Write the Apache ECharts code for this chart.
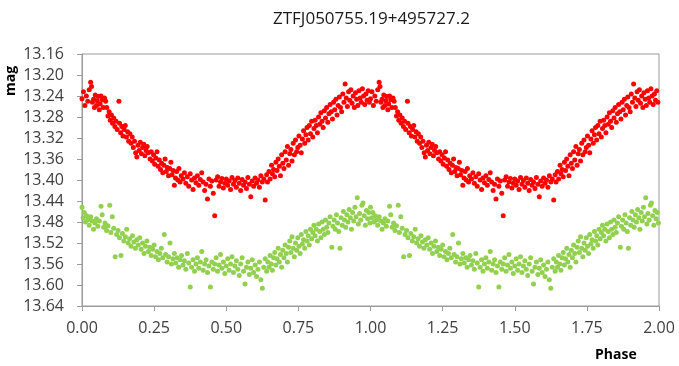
<!DOCTYPE html>
<html style="height: 100%">
<head>
    <meta charset="utf-8">
</head>
<body style="height: 100%; margin: 0; background: #fff">
<div id="container" style="width: 679px; height: 366px"></div>
<script type="text/javascript" src="https://cdn.jsdelivr.net/npm/echarts@6/dist/echarts.min.js"></script>
<script type="text/javascript">
    var titleText = 'ZTFJ050755.19+495727.2';
    var xTicks = [0, 0.25, 0.5, 0.75, 1, 1.25, 1.5, 1.75, 2];
    var yTicks = [13.16, 13.20, 13.24, 13.28, 13.32, 13.36, 13.40, 13.44, 13.48, 13.52, 13.56, 13.60, 13.64];

    // folded light curve, phase 0-1 (plotted twice: phase and phase + 1)
    var redPoints = [
        [0.000, 13.245], [0.005, 13.232], [0.010, 13.258], [0.015, 13.240], [0.020, 13.250],
        [0.025, 13.228], [0.030, 13.214], [0.033, 13.222], [0.036, 13.252], [0.040, 13.246],
        [0.043, 13.262], [0.046, 13.238], [0.050, 13.258], [0.053, 13.249], [0.056, 13.241],
        [0.060, 13.266], [0.063, 13.255], [0.066, 13.240], [0.070, 13.247], [0.074, 13.262],
        [0.078, 13.244], [0.082, 13.250], [0.086, 13.262], [0.090, 13.278], [0.094, 13.270],
        [0.098, 13.286], [0.102, 13.276], [0.106, 13.292], [0.110, 13.282], [0.114, 13.298],
        [0.118, 13.288], [0.122, 13.304], [0.128, 13.250], [0.130, 13.292], [0.134, 13.310],
        [0.138, 13.298], [0.142, 13.316], [0.146, 13.304], [0.150, 13.296], [0.154, 13.318],
        [0.158, 13.308], [0.162, 13.326], [0.166, 13.312], [0.170, 13.330], [0.174, 13.318],
        [0.178, 13.338], [0.182, 13.326], [0.186, 13.348], [0.190, 13.356], [0.194, 13.334],
        [0.198, 13.344], [0.202, 13.328], [0.206, 13.350], [0.210, 13.338], [0.214, 13.332],
        [0.218, 13.354], [0.222, 13.344], [0.226, 13.336], [0.230, 13.348], [0.236, 13.360],
        [0.240, 13.346], [0.244, 13.364], [0.248, 13.352], [0.252, 13.370], [0.256, 13.358],
        [0.260, 13.346], [0.264, 13.374], [0.268, 13.362], [0.272, 13.380], [0.276, 13.368],
        [0.280, 13.386], [0.284, 13.372], [0.288, 13.360], [0.292, 13.384], [0.296, 13.376],
        [0.300, 13.392], [0.304, 13.378], [0.308, 13.366], [0.312, 13.390], [0.316, 13.382],
        [0.320, 13.410], [0.324, 13.396], [0.328, 13.384], [0.332, 13.400], [0.336, 13.378],
        [0.340, 13.404], [0.344, 13.392], [0.350, 13.398], [0.355, 13.386], [0.360, 13.406],
        [0.365, 13.394], [0.370, 13.412], [0.375, 13.388], [0.380, 13.400], [0.385, 13.418],
        [0.390, 13.396], [0.395, 13.405], [0.400, 13.392], [0.405, 13.410], [0.410, 13.399],
        [0.415, 13.386], [0.420, 13.404], [0.425, 13.420], [0.430, 13.408], [0.435, 13.436],
        [0.440, 13.398], [0.445, 13.412], [0.450, 13.402], [0.455, 13.425], [0.460, 13.468],
        [0.465, 13.400], [0.470, 13.394], [0.475, 13.412], [0.480, 13.404], [0.485, 13.397],
        [0.490, 13.415], [0.495, 13.406], [0.500, 13.398], [0.505, 13.410], [0.510, 13.402],
        [0.515, 13.418], [0.520, 13.395], [0.525, 13.408], [0.530, 13.401], [0.535, 13.414],
        [0.540, 13.396], [0.545, 13.406], [0.550, 13.420], [0.555, 13.399], [0.560, 13.410],
        [0.565, 13.404], [0.570, 13.416], [0.575, 13.395], [0.580, 13.408], [0.585, 13.432],
        [0.590, 13.402], [0.595, 13.412], [0.600, 13.396], [0.605, 13.406], [0.610, 13.400],
        [0.615, 13.414], [0.620, 13.392], [0.625, 13.404], [0.630, 13.398], [0.635, 13.438],
        [0.640, 13.390], [0.643, 13.404], [0.648, 13.384], [0.652, 13.398], [0.657, 13.372],
        [0.660, 13.388], [0.664, 13.380], [0.668, 13.394], [0.672, 13.366], [0.676, 13.382],
        [0.680, 13.360], [0.684, 13.374], [0.688, 13.392], [0.692, 13.352], [0.696, 13.368],
        [0.700, 13.378], [0.704, 13.346], [0.708, 13.362], [0.712, 13.336], [0.716, 13.372],
        [0.720, 13.350], [0.724, 13.342], [0.728, 13.364], [0.732, 13.330], [0.736, 13.352],
        [0.740, 13.324], [0.744, 13.346], [0.748, 13.338], [0.752, 13.316], [0.756, 13.334],
        [0.760, 13.348], [0.764, 13.322], [0.768, 13.306], [0.772, 13.330], [0.776, 13.314],
        [0.780, 13.300], [0.784, 13.324], [0.788, 13.296], [0.792, 13.312], [0.796, 13.288],
        [0.800, 13.318], [0.804, 13.302], [0.808, 13.286], [0.812, 13.296], [0.816, 13.310],
        [0.820, 13.280], [0.824, 13.294], [0.828, 13.272], [0.832, 13.288], [0.836, 13.300],
        [0.840, 13.268], [0.844, 13.282], [0.848, 13.262], [0.852, 13.290], [0.856, 13.274],
        [0.860, 13.256], [0.864, 13.270], [0.868, 13.284], [0.872, 13.252], [0.876, 13.266],
        [0.880, 13.246], [0.884, 13.276], [0.888, 13.258], [0.892, 13.242], [0.896, 13.262],
        [0.900, 13.270], [0.904, 13.236], [0.908, 13.252], [0.912, 13.217], [0.916, 13.244],
        [0.920, 13.260], [0.924, 13.232], [0.928, 13.248], [0.932, 13.228], [0.936, 13.254],
        [0.940, 13.240], [0.944, 13.262], [0.948, 13.234], [0.952, 13.246], [0.956, 13.258],
        [0.960, 13.230], [0.964, 13.244], [0.968, 13.252], [0.972, 13.226], [0.976, 13.240],
        [0.980, 13.256], [0.984, 13.236], [0.988, 13.248], [0.992, 13.230], [0.996, 13.252]
    ];

    var greenPoints = [
        [0.000, 13.452], [0.004, 13.472], [0.008, 13.462], [0.012, 13.480], [0.016, 13.468],
        [0.020, 13.476], [0.025, 13.486], [0.030, 13.470], [0.035, 13.478], [0.040, 13.494],
        [0.045, 13.482], [0.050, 13.474], [0.055, 13.488], [0.060, 13.478], [0.066, 13.450],
        [0.070, 13.466], [0.075, 13.490], [0.080, 13.482], [0.085, 13.496], [0.090, 13.487],
        [0.096, 13.448], [0.100, 13.500], [0.105, 13.470], [0.110, 13.492], [0.115, 13.546],
        [0.120, 13.504], [0.125, 13.496], [0.130, 13.510], [0.135, 13.544], [0.140, 13.502],
        [0.145, 13.516], [0.150, 13.508], [0.155, 13.494], [0.160, 13.520], [0.165, 13.512],
        [0.170, 13.526], [0.175, 13.506], [0.180, 13.518], [0.185, 13.530], [0.190, 13.514],
        [0.195, 13.524], [0.200, 13.510], [0.205, 13.532], [0.210, 13.520], [0.215, 13.540],
        [0.220, 13.526], [0.225, 13.516], [0.230, 13.536], [0.235, 13.528], [0.240, 13.544],
        [0.245, 13.532], [0.250, 13.524], [0.255, 13.546], [0.260, 13.536], [0.265, 13.552],
        [0.270, 13.540], [0.275, 13.530], [0.280, 13.548], [0.285, 13.504], [0.290, 13.542],
        [0.295, 13.556], [0.300, 13.546], [0.305, 13.520], [0.310, 13.560], [0.315, 13.550],
        [0.320, 13.540], [0.325, 13.558], [0.330, 13.548], [0.335, 13.566], [0.340, 13.552],
        [0.345, 13.544], [0.350, 13.562], [0.355, 13.554], [0.360, 13.570], [0.365, 13.540],
        [0.370, 13.558], [0.375, 13.604], [0.380, 13.566], [0.385, 13.552], [0.390, 13.574],
        [0.395, 13.560], [0.400, 13.548], [0.405, 13.568], [0.410, 13.556], [0.415, 13.536],
        [0.420, 13.572], [0.425, 13.560], [0.430, 13.552], [0.435, 13.576], [0.440, 13.564],
        [0.445, 13.604], [0.450, 13.556], [0.455, 13.570], [0.460, 13.560], [0.465, 13.548],
        [0.470, 13.574], [0.475, 13.562], [0.480, 13.542], [0.485, 13.568], [0.490, 13.556],
        [0.495, 13.578], [0.500, 13.564], [0.505, 13.550], [0.510, 13.572], [0.515, 13.560],
        [0.520, 13.546], [0.525, 13.576], [0.530, 13.564], [0.535, 13.554], [0.540, 13.570],
        [0.545, 13.582], [0.550, 13.560], [0.555, 13.548], [0.560, 13.574], [0.565, 13.598],
        [0.570, 13.566], [0.575, 13.556], [0.580, 13.580], [0.585, 13.568], [0.590, 13.552],
        [0.595, 13.576], [0.600, 13.562], [0.605, 13.584], [0.610, 13.570], [0.615, 13.556],
        [0.620, 13.590], [0.625, 13.606], [0.630, 13.566], [0.635, 13.550], [0.640, 13.574],
        [0.644, 13.556], [0.648, 13.566], [0.652, 13.544], [0.656, 13.560], [0.660, 13.572],
        [0.664, 13.548], [0.668, 13.538], [0.672, 13.562], [0.676, 13.550], [0.680, 13.530],
        [0.684, 13.556], [0.688, 13.542], [0.692, 13.566], [0.696, 13.534], [0.700, 13.548],
        [0.704, 13.524], [0.708, 13.540], [0.712, 13.556], [0.716, 13.528], [0.720, 13.516],
        [0.724, 13.538], [0.728, 13.508], [0.732, 13.530], [0.736, 13.546], [0.740, 13.520],
        [0.744, 13.534], [0.748, 13.510], [0.752, 13.526], [0.756, 13.540], [0.760, 13.504],
        [0.764, 13.522], [0.768, 13.514], [0.772, 13.530], [0.776, 13.498], [0.780, 13.516],
        [0.784, 13.506], [0.788, 13.524], [0.792, 13.494], [0.796, 13.512], [0.800, 13.500],
        [0.804, 13.486], [0.808, 13.506], [0.812, 13.494], [0.816, 13.516], [0.820, 13.484],
        [0.824, 13.498], [0.828, 13.510], [0.832, 13.480], [0.836, 13.494], [0.840, 13.504],
        [0.844, 13.476], [0.848, 13.490], [0.852, 13.500], [0.856, 13.482], [0.860, 13.470],
        [0.866, 13.528], [0.870, 13.488], [0.874, 13.476], [0.878, 13.494], [0.882, 13.466],
        [0.886, 13.482], [0.890, 13.498], [0.894, 13.530], [0.898, 13.472], [0.902, 13.486],
        [0.906, 13.460], [0.910, 13.476], [0.914, 13.490], [0.918, 13.466], [0.922, 13.480],
        [0.926, 13.456], [0.930, 13.472], [0.934, 13.494], [0.938, 13.462], [0.942, 13.478],
        [0.946, 13.452], [0.950, 13.470], [0.954, 13.434], [0.958, 13.484], [0.962, 13.464],
        [0.966, 13.476], [0.970, 13.448], [0.974, 13.444], [0.978, 13.468], [0.982, 13.486],
        [0.986, 13.458], [0.990, 13.474], [0.994, 13.462], [0.998, 13.482]
    ];

    function twoCycles(points) {
        var out = [];
        points.forEach(function (p) { out.push([p[0], p[1]]); });
        points.forEach(function (p) { out.push([p[0] + 1, p[1]]); });
        return out;
    }

    var dom = document.getElementById("container");
    var myChart = echarts.init(dom);
    var labelFont = {fontFamily: 'Open Sans', fontSize: 16, color: '#404040'};

    var option = {
        animation: false,
        backgroundColor: '#fff',
        title: {
            text: titleText,
            left: 268,
            top: 6,
            textStyle: {fontFamily: 'Open Sans', fontSize: 17, fontWeight: 'normal', color: '#1a1a1a'}
        },
        grid: {
            left: 82, right: 20, top: 54, bottom: 60,
            show: true, borderColor: '#9a9a9a', borderWidth: 1
        },
        xAxis: {
            type: 'value',
            min: xTicks[0],
            max: xTicks[xTicks.length - 1],
            interval: 0.25,
            splitLine: {show: false},
            axisLine: {lineStyle: {color: '#9a9a9a'}},
            axisTick: {show: true, length: 5, lineStyle: {color: '#9a9a9a'}},
            axisLabel: Object.assign({margin: 14, formatter: function (v) { return v.toFixed(2); }}, labelFont)
        },
        yAxis: {
            type: 'value',
            inverse: true,
            min: yTicks[0],
            max: yTicks[yTicks.length - 1],
            interval: 0.04,
            splitLine: {show: false},
            axisLine: {show: true, lineStyle: {color: '#9a9a9a'}},
            axisTick: {show: true, length: 5, lineStyle: {color: '#9a9a9a'}},
            axisLabel: Object.assign({margin: 18, formatter: function (v) { return v.toFixed(2); }}, labelFont)
        },
        graphic: [
            {
                type: 'text', x: 4, y: 81, rotation: Math.PI / 2,
                style: {text: 'mag', font: 'bold 14px "Open Sans"', fill: '#000', align: 'center', verticalAlign: 'top'}
            },
            {
                type: 'text', x: 595, y: 348,
                style: {text: 'Phase', font: 'bold 14px "Open Sans"', fill: '#000'}
            }
        ],
        series: [
            {
                type: 'scatter',
                symbolSize: 5,
                itemStyle: {color: '#ff0000', opacity: 1},
                data: twoCycles(redPoints)
            },
            {
                type: 'scatter',
                symbolSize: 5,
                itemStyle: {color: '#92d050', opacity: 1},
                data: twoCycles(greenPoints)
            }
        ]
    };

    myChart.setOption(option);
</script>
</body>
</html>
